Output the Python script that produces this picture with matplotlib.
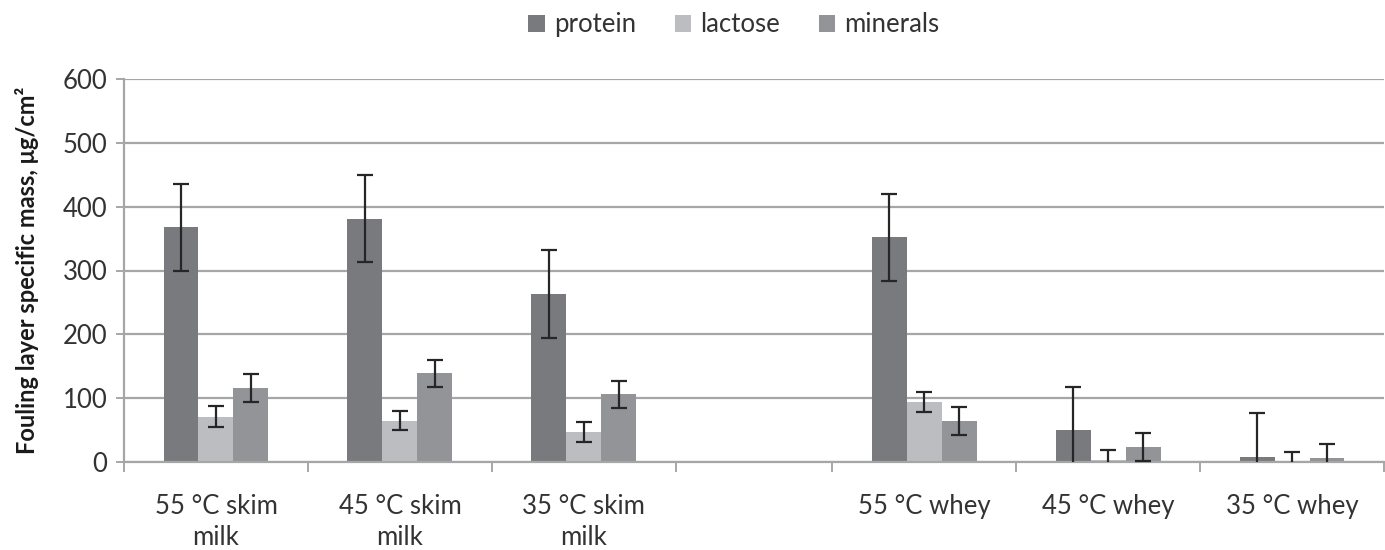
import matplotlib.pyplot as plt
import numpy as np

# Data
categories = ["55 °C skim\nmilk", "45 °C skim\nmilk", "35 °C skim\nmilk", "",
              "55 °C whey", "45 °C whey", "35 °C whey"]
protein      = [368, 381, 263, np.nan, 352, 50, 8]
protein_err  = [68, 68, 69, np.nan, 68, 68, 69]
lactose      = [71, 65, 47, np.nan, 94, 3, 1]
lactose_err  = [16, 15, 16, np.nan, 15, 16, 14]
minerals     = [116, 139, 106, np.nan, 64, 24, 6]
minerals_err = [22, 21, 21, np.nan, 22, 22, 22]

series = [("protein", protein, protein_err, "#797a7e"),
          ("lactose", lactose, lactose_err, "#bcbdc1"),
          ("minerals", minerals, minerals_err, "#939498")]

plt.rcParams["font.family"] = ["Lato", "DejaVu Sans"]
txt = "#333333"
fs = 18.5

fig = plt.figure(figsize=(13.85, 5.5), dpi=100)
fig.patch.set_facecolor("white")
ax = fig.add_axes([124 / 1385, 88 / 550, 1260 / 1385, 383 / 550])

# category slots (the empty slot is narrower in the original)
widths = np.array([1, 1, 1, 0.85, 1, 1, 1])
bounds = np.concatenate([[0], np.cumsum(widths)])
centers = (bounds[:-1] + bounds[1:]) / 2

bw = 0.19
for i, (name, vals, errs, col) in enumerate(series):
    xs = centers + (i - 1) * bw
    ax.bar(xs, vals, width=bw, color=col, label=name, zorder=2)
    ax.errorbar(xs, vals, yerr=errs, fmt="none", ecolor="#262626",
                elinewidth=1.6, capsize=5.5, capthick=1.6, zorder=3)

ax.set_xlim(bounds[0], bounds[-1])
ax.set_ylim(0, 600)
ax.set_yticks(range(0, 700, 100))
ax.tick_params(axis="y", labelsize=fs, colors="#a0a0a0", labelcolor=txt,
               length=6, width=1.3, pad=6)

ax.set_xticks(bounds)
ax.set_xticklabels([])
ax.set_xticks(centers, minor=True)
ax.set_xticklabels(categories, minor=True, fontsize=fs, color=txt,
                   linespacing=1.3)
ax.tick_params(axis="x", which="major", colors="#a0a0a0", length=7, width=1.3)
ax.tick_params(axis="x", which="minor", length=0, pad=23)

ax.yaxis.grid(True, color="#a6a6a6", linewidth=1.6)
ax.set_axisbelow(True)
for s in ["top", "right"]:
    ax.spines[s].set_visible(False)
for s in ["left", "bottom"]:
    ax.spines[s].set_color("#a6a6a6")
    ax.spines[s].set_linewidth(1.6)

ax.set_ylabel("Fouling layer specific mass, μg/cm²", fontsize=17,
              fontweight="bold", color="#1a1a1a", labelpad=17)

ax.legend(loc="upper center", bbox_to_anchor=(0.484, 1.235), ncol=3, frameon=False,
          fontsize=fs, handlelength=0.65, handleheight=0.65, handletextpad=0.35,
          columnspacing=1.5, labelcolor=txt)

fig.savefig("out.png", dpi=100)
